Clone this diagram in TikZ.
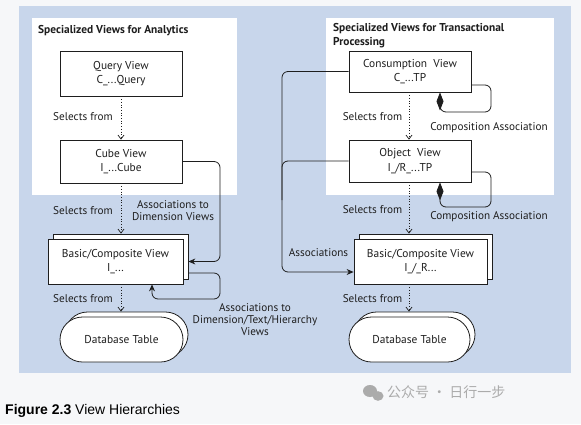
\documentclass[tikz,border=0pt]{standalone}
\usepackage{fontspec}
\setmainfont{PT Sans}
\newfontfamily\capfont{Liberation Sans}
\newfontfamily\cjk{Noto Sans CJK SC}
\usetikzlibrary{arrows.meta,shapes.misc,shadows}
\definecolor{pagebg}{HTML}{F6F7F9}
\definecolor{panelblue}{HTML}{C8D6EB}
\definecolor{ink}{HTML}{1E1E1E}
\definecolor{wm}{HTML}{ABABAB}
\tikzset{
  viewbox/.style={draw=ink, fill=white, line width=0.8pt, align=center, inner sep=0pt,
    font=\fontsize{11.4}{14.5}\selectfont, text=ink},
  stackbox/.style={viewbox, copy shadow={shadow xshift=5pt, shadow yshift=5pt}},
  dbshape/.style={viewbox, rounded rectangle, copy shadow={shadow xshift=5pt, shadow yshift=5pt}},
  lbl/.style={font=\fontsize{11.2}{12}\selectfont, text=ink, align=center, inner sep=0pt},
  ttl/.style={font=\bfseries\fontsize{11.4}{14}\selectfont, text=ink, align=left, inner sep=0pt},
  sel/.style={draw=ink, line width=0.7pt, dotted, -{Straight Barb[length=4pt,width=6pt]}},
  assoc/.style={draw=ink, line width=0.8pt, rounded corners=6pt, -{Stealth[length=7pt,width=6pt]}},
  compo/.style={draw=ink, line width=0.8pt, rounded corners=6pt, {Diamond[length=18pt,width=7pt]}-},
}
\begin{document}
\begin{tikzpicture}[x=1pt,y=-1pt]
\useasboundingbox (0,0) rectangle (581,424);
\fill[pagebg] (0,0) rectangle (581,424);
\fill[panelblue] (19,6) rectangle (571,373);
\fill[white] (32,18) rectangle (237,195);
\fill[white] (326,18) rectangle (554,195);

% titles
\node[ttl, anchor=west] (tl) at (38,31) {Specialized Views for Analytics};
\node[ttl, anchor=north west] (tr) at (333,23) {Specialized Views for Transactional\\Processing};

% left column
\node[viewbox, minimum width=122pt, minimum height=45pt] (qv) at (121,73.5) {Query View\\C\_...Query};
\node[viewbox, minimum width=122pt, minimum height=43pt] (cube) at (121,161.5) {Cube View\\I\_...Cube};
\node[stackbox, minimum width=135pt, minimum height=45pt] (bl) at (115.5,261.5) {Basic/Composite View\\I\_...};
\node[dbshape, minimum width=123pt, minimum height=45pt] (dbl) at (121.5,339.5) {Database Table};

% right column
\node[viewbox, minimum width=122pt, minimum height=41pt] (cons) at (410,71.5) {Consumption\ \ View\\C\_...TP};
\node[viewbox, minimum width=122pt, minimum height=42pt] (obj) at (410,161) {Object\ \ View\\I\_/R\_...TP};
\node[stackbox, minimum width=133pt, minimum height=45pt] (br) at (420.5,261.5) {Basic/Composite View\\I\_/\_R...};
\node[dbshape, minimum width=121pt, minimum height=45pt] (dbr) at (409.5,339.5) {Database Table};

% selects-from arrows, left
\draw[sel] (qv.south) -- (cube.north);
\draw[sel] (cube.south) -- ([yshift=5pt]bl.north -| cube.south);
\draw[sel] (bl.south -| cube.south) -- ([yshift=5pt]dbl.north -| cube.south);
\node[lbl] (s1) at (83,117) {Selects from};
\node[lbl] (s2) at (83,211) {Selects from};
\node[lbl] (s3) at (83,299) {Selects from};

% selects-from arrows, right
\draw[sel] (cons.south -| 409,0) -- (obj.north -| 409,0);
\draw[sel] (obj.south -| 409,0) -- ([yshift=5pt]br.north -| 409,0);
\draw[sel] (br.south -| 409,0) -- ([yshift=5pt]dbr.north -| 409,0);
\node[lbl] (s4) at (372.5,117) {Selects from};
\node[lbl] (s5) at (372.5,210) {Selects from};
\node[lbl] (s6) at (372.5,299) {Selects from};

% associations, left
\draw[assoc] (cube.east) -| (220,230) |- ([xshift=5pt]bl.east);
\draw[assoc] ([xshift=5pt,yshift=-11.5pt]bl.east) -| (220,299) -| ([xshift=36.5pt]bl.south);
\node[lbl] (a1) at (173,211) {Associations to\\Dimension Views};
\node[lbl] (a2) at (255,320) {Associations to\\Dimension/Text/Hierarchy\\Views};

% compositions, right
\draw[compo] ([xshift=30pt]cons.south) |- (491,112) |- ([yshift=-13.5pt]cons.east);
\draw[compo] ([xshift=30pt]obj.south) |- (491,207) |- ([yshift=-11pt]obj.east);
\node[lbl] (c1) at (489,128) {Composition Association};
\node[lbl] (c2) at (489,217) {Composition Association};

% associations, right
\draw[assoc] (cons.west) -| (282,200) |- ([yshift=-10.5pt]br.west);
\draw[draw=ink, line width=0.8pt, rounded corners=6pt] (obj.west) -| (282,200);
\node[lbl] (a3) at (318.5,253) {Associations};

% caption
\node[anchor=west, inner sep=0pt, font=\capfont\fontsize{14}{16}\selectfont, text=black] (cap) at (5,411) {\textbf{Figure 2.3} View Hierarchies};

% watermark
\fill[wm] (370,391) ellipse (7pt and 6pt);
\fill[wm] (378,396) ellipse (5.5pt and 4.8pt);
\node[anchor=west, inner sep=0pt, font=\cjk\fontsize{14}{15}\selectfont, text=wm] (wmt) at (387,392) {公众号 · 日行一步};
\end{tikzpicture}
\end{document}
